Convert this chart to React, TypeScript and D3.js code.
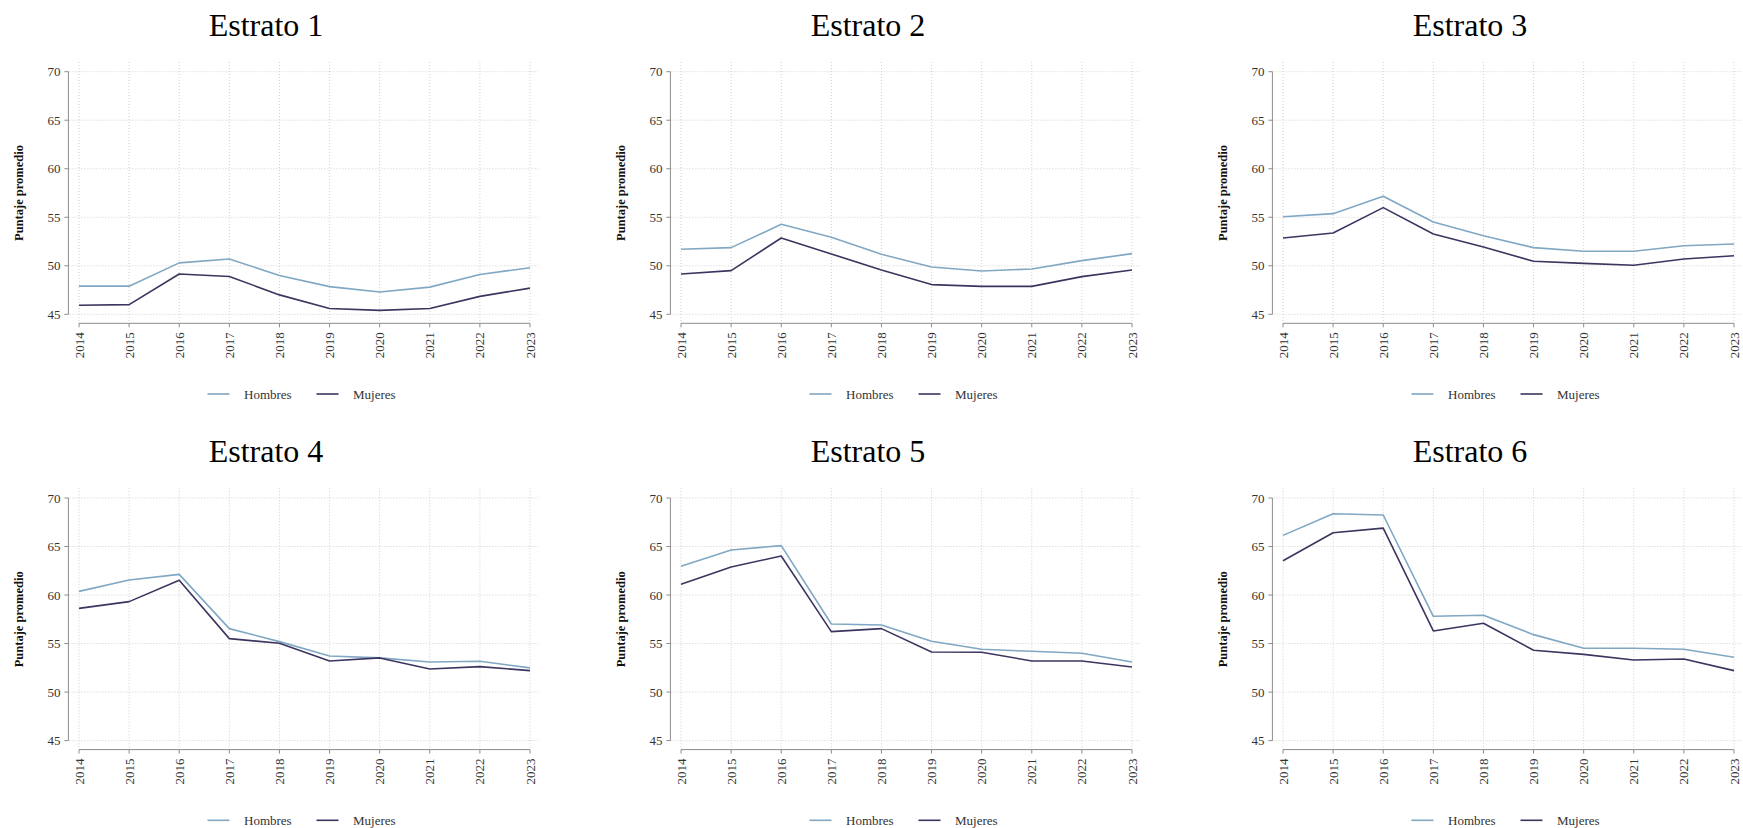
import React from "react";
import * as d3 from "d3";

const years = [2014, 2015, 2016, 2017, 2018, 2019, 2020, 2021, 2022, 2023];
const yTicks = [45, 50, 55, 60, 65, 70];
const titles = ["Estrato 1", "Estrato 2", "Estrato 3", "Estrato 4", "Estrato 5", "Estrato 6"];
const seriesNames = ["Hombres", "Mujeres"];

const hombres1 = [47.9, 47.9, 50.3, 50.7, 49.0, 47.85, 47.3, 47.8, 49.1, 49.8];
const mujeres1 = [45.93, 46.0, 49.15, 48.9, 47.0, 45.6, 45.4, 45.6, 46.85, 47.7];
const hombres2 = [51.7, 51.87, 54.27, 52.93, 51.18, 49.88, 49.46, 49.67, 50.53, 51.25];
const mujeres2 = [49.15, 49.5, 52.86, 51.22, 49.57, 48.06, 47.88, 47.88, 48.88, 49.57];
const hombres3 = [55.06, 55.37, 57.16, 54.51, 53.1, 51.87, 51.49, 51.49, 52.07, 52.25];
const mujeres3 = [52.86, 53.38, 55.99, 53.28, 51.94, 50.46, 50.25, 50.05, 50.7, 51.04];
const hombres4 = [60.38, 61.55, 62.13, 56.54, 55.2, 53.72, 53.52, 53.1, 53.17, 52.49];
const mujeres4 = [58.63, 59.32, 61.52, 55.51, 55.03, 53.21, 53.52, 52.38, 52.62, 52.21];
const hombres5 = [62.96, 64.64, 65.09, 57.02, 56.92, 55.23, 54.41, 54.2, 54.0, 53.1];
const mujeres5 = [61.1, 62.89, 64.02, 56.23, 56.54, 54.13, 54.1, 53.21, 53.21, 52.59];
const hombres6 = [66.15, 68.38, 68.25, 57.81, 57.91, 55.92, 54.51, 54.51, 54.41, 53.59];
const mujeres6 = [63.54, 66.42, 66.9, 56.3, 57.09, 54.31, 53.89, 53.31, 53.41, 52.21];

const hombresAll = [hombres1, hombres2, hombres3, hombres4, hombres5, hombres6];
const mujeresAll = [mujeres1, mujeres2, mujeres3, mujeres4, mujeres5, mujeres6];

const colors = ["#80a7c3", "#3b355f"];
const FONT = "'Liberation Serif', 'Times New Roman', serif";

const panelDX = 602;
const panelDY = 426.3;

function Panel({ idx }: { idx: number }) {
  const col = idx % 3;
  const row = Math.floor(idx / 3);
  const ox = col * panelDX;
  const oy = row * panelDY;

  const x = d3.scaleLinear().domain([2014, 2023]).range([79, 530]);
  const y = d3.scaleLinear().domain([45, 70]).range([314.3, 71.7]);
  const axisX = 68.4;
  const axisY = 323.3;
  const gridTop = 62;
  const gridRight = 538;

  const line = d3
    .line<number>()
    .x((_, i) => x(years[i]))
    .y((d) => y(d));

  const data = [hombresAll[idx], mujeresAll[idx]];

  return (
    <g transform={`translate(${ox},${oy})`}>
      <text x={266} y={36} textAnchor="middle" fontFamily={FONT} fontSize={32} fill="#000">
        {titles[idx]}
      </text>
      {/* grid */}
      {yTicks.map((t) => (
        <line key={"h" + t} x1={axisX + 1} x2={gridRight} y1={y(t)} y2={y(t)}
          stroke="#cfcfcf" strokeWidth={1} strokeDasharray="1,2" />
      ))}
      {years.map((yr) => (
        <line key={"v" + yr} x1={x(yr)} x2={x(yr)} y1={gridTop} y2={axisY - 1}
          stroke="#cfcfcf" strokeWidth={1} strokeDasharray="1,2" />
      ))}
      {/* y axis */}
      <line x1={axisX} x2={axisX} y1={y(70)} y2={y(45)} stroke="#8c8c8c" strokeWidth={1} />
      {yTicks.map((t) => (
        <g key={"yt" + t}>
          <line x1={axisX - 4} x2={axisX} y1={y(t)} y2={y(t)} stroke="#8c8c8c" strokeWidth={1} />
          <text x={axisX - 8} y={y(t)} dy="0.35em" textAnchor="end" fontFamily={FONT} fontSize={13} fill="#333">
            {t}
          </text>
        </g>
      ))}
      <text transform={`translate(18.7,${(y(45) + y(70)) / 2}) rotate(-90)`} textAnchor="middle"
        dy="0.35em" fontFamily={FONT} fontSize={12.5} fontWeight="bold" fill="#111">
        Puntaje promedio
      </text>
      {/* x axis */}
      <line x1={x(2014)} x2={x(2023)} y1={axisY} y2={axisY} stroke="#8c8c8c" strokeWidth={1} />
      {years.map((yr) => (
        <g key={"xt" + yr}>
          <line x1={x(yr)} x2={x(yr)} y1={axisY} y2={axisY + 4} stroke="#8c8c8c" strokeWidth={1} />
          <text transform={`translate(${x(yr)},${axisY + 9}) rotate(-90)`} textAnchor="end" dy="0.35em"
            fontFamily={FONT} fontSize={13} fill="#333">
            {yr}
          </text>
        </g>
      ))}
      {/* series */}
      {data.map((d, i) => (
        <path key={"s" + i} d={line(d) || ""} fill="none" stroke={colors[i]} strokeWidth={1.6}
          strokeLinejoin="round" />
      ))}
      {/* legend */}
      {seriesNames.map((name, i) => (
        <g key={"lg" + i} transform={`translate(${207.5 + i * 109},394)`}>
          <line x1={0} x2={22} y1={0} y2={0} stroke={colors[i]} strokeWidth={1.6} />
          <text x={36.5} y={0} dy="0.35em" fontFamily={FONT} fontSize={13} fill="#333">
            {name}
          </text>
        </g>
      ))}
    </g>
  );
}

export default function App() {
  return (
    <svg width={1743} height={828} style={{ position: "absolute", left: 0, top: 0, background: "#fff" }}>
      <rect width={1743} height={828} fill="#fff" />
      {titles.map((_, i) => (
        <Panel key={i} idx={i} />
      ))}
    </svg>
  );
}
